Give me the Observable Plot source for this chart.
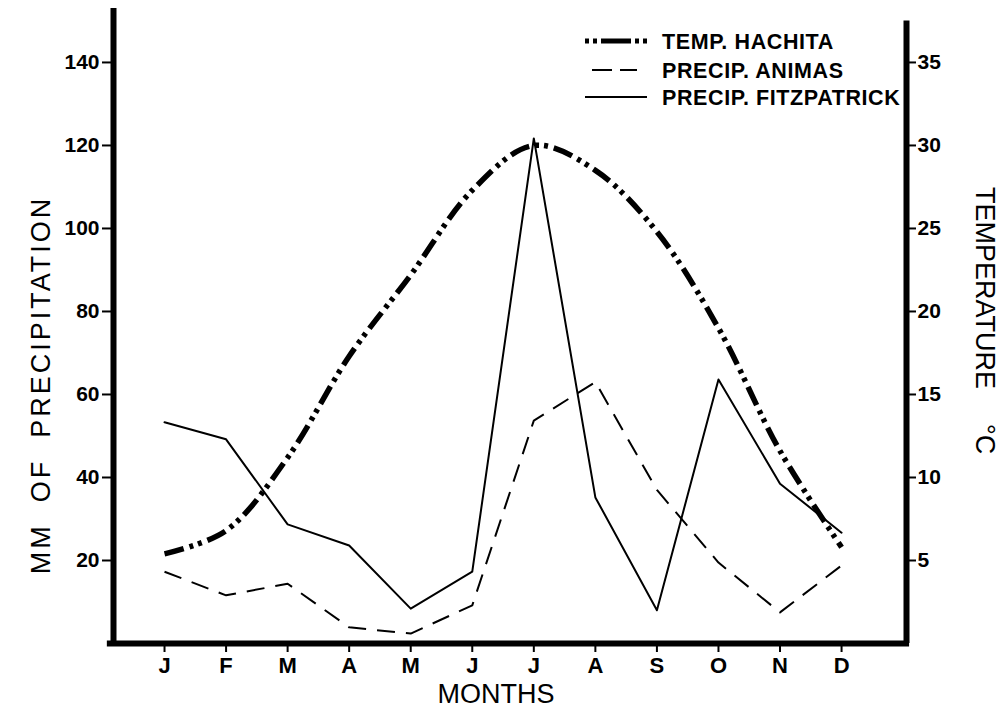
<!DOCTYPE html>
<html>
<head>
<meta charset="utf-8">
<script src="https://cdn.jsdelivr.net/npm/d3@7"></script>
<script src="https://cdn.jsdelivr.net/npm/@observablehq/plot@0.6"></script>
<style>
  html, body { margin: 0; padding: 0; background: #fff; }
  #chart svg { display: block; }
</style>
</head>
<body>
<div id="chart"></div>
<script>
// ---- data ----
const months = ["J", "F", "M", "A", "M", "J", "J", "A", "S", "O", "N", "D"];
const tempHachita = [5.4, 6.8, 11.2, 17.3, 22.2, 27.3, 30.0, 28.5, 24.8, 19.0, 11.6, 5.8];      // °C
const precipAnimas = [17.3, 11.6, 14.4, 3.9, 2.4, 9.2, 53.7, 63.0, 37.0, 19.5, 7.5, 18.8];      // mm
const precipFitzpatrick = [53.3, 49.2, 28.7, 23.6, 8.4, 17.3, 121.7, 35.2, 8.0, 63.6, 38.5, 26.7]; // mm
const precipTicks = [20, 40, 60, 80, 100, 120, 140];
const tempTicks = [5, 10, 15, 20, 25, 30, 35];
const mmPerDegree = 4; // right axis: 5 °C sits level with 20 mm

const legendItems = [
  {label: "TEMP. HACHITA", kind: "temp"},
  {label: "PRECIP. ANIMAS", kind: "animas"},
  {label: "PRECIP. FITZPATRICK", kind: "fitz"}
];

const rows = months.map((m, i) => ({
  i, m,
  temp: tempHachita[i] * mmPerDegree,
  animas: precipAnimas[i],
  fitz: precipFitzpatrick[i]
}));

const xDomain = [-0.829, 12.055];
const yTop = 153;
const rightTop = 150;
const FONT = "'Liberation Sans', Arial, Helvetica, sans-serif";

const plot = Plot.plot({
  width: 1000,
  height: 710,
  marginLeft: 113,
  marginRight: 94,
  marginTop: 8,
  marginBottom: 67,
  x: {domain: xDomain},
  y: {domain: [0, yTop]},
  style: {fontFamily: FONT, fontWeight: "bold", background: "white", color: "black", overflow: "visible"},
  marks: [
    Plot.axisY(precipTicks, {anchor: "left", tickSize: 11, tickPadding: 3, strokeWidth: 2, fontSize: 21, label: null}),
    Plot.axisY(tempTicks.map(t => t * mmPerDegree), {anchor: "right", tickSize: 9, tickPadding: 2, strokeWidth: 2, fontSize: 21, tickFormat: d => d / mmPerDegree, label: null}),
    Plot.axisX(d3.range(months.length), {anchor: "bottom", tickSize: 9, tickPadding: 5, strokeWidth: 2, fontSize: 22, tickFormat: i => months[i], label: null}),
    // axis frame lines
    Plot.ruleX([xDomain[0]], {y1: 0, y2: yTop, strokeWidth: 6, stroke: "black", strokeLinecap: "butt"}),
    Plot.ruleX([xDomain[1]], {y1: 0, y2: rightTop, strokeWidth: 6, stroke: "black", strokeLinecap: "butt"}),
    Plot.ruleY([0], {x1: xDomain[0] - 0.1, x2: xDomain[1] + 0.05, strokeWidth: 6, stroke: "black", strokeLinecap: "butt"}),
    // series
    Plot.line(rows, {x: "i", y: "fitz", stroke: "black", strokeWidth: 2}),
    Plot.line(rows, {x: "i", y: "animas", stroke: "black", strokeWidth: 2, strokeDasharray: "18,11", strokeLinecap: "butt"}),
    Plot.line(rows, {x: "i", y: "temp", stroke: "black", strokeWidth: 5.5, curve: "catmull-rom", strokeDasharray: "20,6,4,5,4,6", strokeLinecap: "butt", strokeLinejoin: "miter"})
  ]
});

document.getElementById("chart").appendChild(plot);

// ---- titles and legend ----
const svg = d3.select(plot);

svg.append("text")
  .attr("transform", "translate(50,385) rotate(-90)")
  .attr("text-anchor", "middle")
  .style("font-family", FONT).style("font-weight", "normal").style("font-size", "27px")
  .style("letter-spacing", "3px").style("white-space", "pre")
  .text("MM  OF  PRECIPITATION");

svg.append("text")
  .attr("transform", "translate(976,187) rotate(90)")
  .attr("text-anchor", "start")
  .style("font-family", FONT).style("font-weight", "normal").style("font-size", "27px")
  .text("TEMPERATURE");
svg.append("text")
  .attr("transform", "translate(976,424) rotate(90)")
  .attr("text-anchor", "start")
  .style("font-family", FONT).style("font-weight", "normal").style("font-size", "27px")
  .text("°C");

svg.append("text")
  .attr("x", 496).attr("y", 703)
  .attr("text-anchor", "middle")
  .style("font-family", FONT).style("font-weight", "normal").style("font-size", "27px")
  .text("MONTHS");

const legendY = [41, 70, 97];
const lg = svg.append("g");
legendItems.forEach((d, k) => {
  const y = legendY[k];
  const ln = lg.append("line").attr("y1", y).attr("y2", y).attr("stroke", "black");
  if (d.kind === "temp") {
    ln.attr("x1", 585).attr("x2", 647).attr("stroke-width", 5).attr("stroke-dasharray", "4,4,4,4,30,4,4,4,4");
  } else if (d.kind === "animas") {
    ln.attr("x1", 592).attr("x2", 637).attr("stroke-width", 2).attr("stroke-dasharray", "20,8,17");
  } else {
    ln.attr("x1", 585).attr("x2", 647).attr("stroke-width", 2);
  }
  lg.append("text")
    .attr("x", 662).attr("y", y + 7.5)
    .attr("text-anchor", "start")
    .style("font-family", FONT).style("font-weight", "bold").style("font-size", "21.5px")
    .style("letter-spacing", "0.6px")
    .text(d.label);
});
</script>
</body>
</html>
